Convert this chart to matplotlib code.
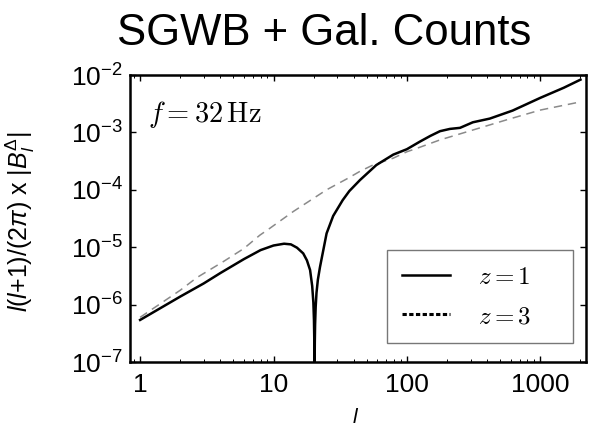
import matplotlib

matplotlib.use("Agg")
import matplotlib.pyplot as plt  # noqa: E402
from matplotlib import ticker  # noqa: E402
from matplotlib.lines import Line2D  # noqa: E402

# values (log-log), |B_l| times l(l+1)/(2 pi)
ell_z1 = [1, 2, 3, 4, 6, 8, 10, 12, 13.5, 15, 16.7, 17.8, 18.8, 19.5, 19.9,
          20.1, 20.2, 20.25, 20.3, 20.35, 20.4, 20.5, 20.7, 21.0, 21.5, 22.3,
          25, 28, 33, 37, 44.5, 59, 79, 100, 125, 150, 177, 210, 250, 312,
          418, 620, 1000, 1500, 2000]
val_z1 = [5.4e-7, 1.38e-6, 2.34e-6, 3.55e-6, 6.2e-6, 8.9e-6, 1.07e-5, 1.15e-5,
          1.12e-5, 9.8e-6, 7.8e-6, 5.9e-6, 4.0e-6, 2.1e-6, 1.08e-6, 5.4e-7,
          2.7e-7, 1.35e-7, 1e-9, 1.1e-7, 2.25e-7, 4.5e-7, 9e-7, 1.6e-6, 2.7e-6,
          4.5e-6, 1.74e-5, 3.5e-5, 6.6e-5, 9.5e-5, 1.48e-4, 2.7e-4, 4.1e-4,
          5.1e-4, 6.9e-4, 8.7e-4, 1.05e-3, 1.15e-3, 1.2e-3, 1.5e-3, 1.74e-3,
          2.4e-3, 4.0e-3, 6.0e-3, 8.3e-3]

ell_z3 = [1, 2, 2.66, 4.2, 6, 7.9, 9.4, 14.1, 25, 36, 44.5, 55.6, 78.8, 100,
          118, 177, 312, 561, 1000, 1876]
val_z3 = [6.0e-7, 1.78e-6, 2.95e-6, 5.6e-6, 9.5e-6, 1.62e-5, 2.14e-5, 4.2e-5,
          1.0e-4, 1.58e-4, 2.1e-4, 2.7e-4, 3.55e-4, 4.6e-4, 5.25e-4, 7.4e-4,
          1.1e-3, 1.66e-3, 2.45e-3, 3.3e-3]

x_ticks = [1, 10, 100, 1000]
legend_labels = [r"$z = 1$", r"$z = 3$"]

plt.rcParams["font.family"] = ["Liberation Sans", "DejaVu Sans"]
plt.rcParams["mathtext.fontset"] = "custom"
plt.rcParams["mathtext.rm"] = "Liberation Sans"
plt.rcParams["mathtext.it"] = "Liberation Sans:italic"
plt.rcParams["mathtext.cal"] = "Liberation Sans"

fig = plt.figure(figsize=(5.92, 4.28), dpi=100)
ax = fig.add_axes([130 / 592, 1 - 362 / 428, 456 / 592, 287 / 428])

ax.plot(ell_z3, val_z3, color="#8a8a8a", lw=1.1, dashes=(5.5, 3.8))
ax.plot(ell_z1, val_z1, color="black", lw=1.8)

ax.set_xscale("log")
ax.set_yscale("log")
ax.set_xlim(0.84, 2200)
ax.set_ylim(1e-7, 1e-2)

ax.xaxis.set_major_locator(ticker.FixedLocator(x_ticks))
ax.xaxis.set_major_formatter(ticker.FuncFormatter(lambda v, _: f"{v:g}"))
ax.yaxis.set_major_locator(ticker.LogLocator(base=10, numticks=10))
ax.tick_params(which="both", direction="in", top=True, right=True)
ax.tick_params(which="major", length=4.5, width=1.0, labelsize=19)
ax.tick_params(which="minor", length=2.2, width=0.7)
ax.tick_params(axis="x", pad=8)
ax.tick_params(axis="y", pad=5)
for spine in ax.spines.values():
    spine.set_linewidth(1.8)

ax.set_ylabel(r"$l$($l$+1)/(2$\pi$) x $|B_l^{\Delta}|$", fontsize=18)
ax.yaxis.set_label_coords(-0.205, 0.49)
ax.set_xlabel(r"$l$", fontsize=15)
ax.xaxis.set_label_coords(0.495, -0.16)

ax.text(0.04, 0.836, r"$f = 32\,\mathrm{Hz}$", transform=ax.transAxes,
        fontsize=20.5, va="baseline", math_fontfamily="cm")

handles = [Line2D([], [], color="black", lw=1.8),
           Line2D([], [], color="black", lw=2.2, dashes=(1.4, 0.8))]
leg = ax.legend(handles, legend_labels, loc="lower left",
                bbox_to_anchor=(0.564, 0.066, 0.407, 0.342), mode="expand",
                fontsize=18, frameon=True, fancybox=False, framealpha=1,
                edgecolor="#777777", handlelength=1.9, handletextpad=1.15,
                labelspacing=0.6, borderpad=0.6, borderaxespad=0)
leg.get_frame().set_linewidth(1.0)
for txt in leg.get_texts():
    txt.set_math_fontfamily("cm")

fig.text(324.5 / 592, 1 - 45 / 428, "SGWB + Gal. Counts", fontsize=31.5,
         ha="center", va="baseline")

fig.savefig("out.png", dpi=100)
